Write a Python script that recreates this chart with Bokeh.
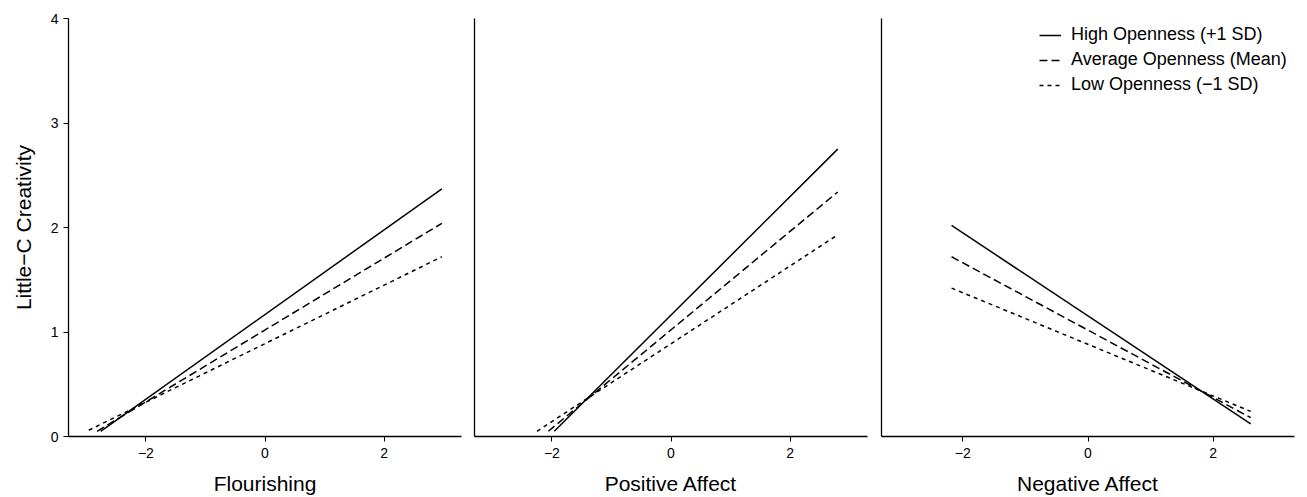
from bokeh.plotting import figure
from bokeh.layouts import row
from bokeh.models import Range1d, FixedTicker, Legend, LegendItem
from bokeh.embed import file_html
from bokeh.resources import INLINE

FONT = "Liberation Sans"

# ---- data ----
series_names = ["High Openness (+1 SD)", "Average Openness (Mean)", "Low Openness (\u22121 SD)"]
series_dash = ["solid", "8 4", "4 4"]

panel_titles = ["Flourishing", "Positive Affect", "Negative Affect"]

flour_x_start = [-2.76, -2.82, -2.96]
flour_x_end = [2.97, 2.97, 2.97]
flour_y_start = [0.05, 0.05, 0.06]
flour_y_end = [2.37, 2.04, 1.72]

pos_x_start = [-1.96, -2.06, -2.25]
pos_x_end = [2.80, 2.80, 2.80]
pos_y_start = [0.05, 0.05, 0.05]
pos_y_end = [2.75, 2.34, 1.93]

neg_x_start = [-2.18, -2.18, -2.18]
neg_x_end = [2.60, 2.60, 2.60]
neg_y_start = [2.02, 1.72, 1.42]
neg_y_end = [0.12, 0.18, 0.24]

x_ticks = [-2, 0, 2]
x_tick_labels = ["\u22122", "0", "2"]
y_ticks = [0, 1, 2, 3, 4]
y_label = "Little\u2212C Creativity"


def make_panel(title, xs0, xs1, ys0, ys1, width, left, right, show_y, with_legend):
    p = figure(width=width, height=497, output_backend="svg", toolbar_location=None,
               x_range=Range1d(-3.3, 3.3), y_range=Range1d(0, 4),
               min_border_left=left, min_border_right=right,
               min_border_top=18, min_border_bottom=61)
    p.outline_line_color = None
    p.grid.visible = False
    p.background_fill_color = "white"
    p.border_fill_color = "white"

    rs = []
    for i in range(3):
        r = p.line([xs0[i], xs1[i]], [ys0[i], ys1[i]], line_color="black",
                   line_width=1.5, line_dash=series_dash[i])
        rs.append(r)

    xa = p.xaxis[0]
    xa.ticker = FixedTicker(ticks=x_ticks)
    xa.major_label_overrides = {t: l for t, l in zip(x_ticks, x_tick_labels)}
    xa.minor_tick_line_color = None
    xa.major_tick_out = 5
    xa.major_tick_in = 0
    xa.axis_line_width = 1.3
    xa.axis_line_color = "black"
    xa.major_tick_line_color = "black"
    xa.major_label_text_font = FONT
    xa.major_label_text_font_size = "14px"
    xa.major_label_text_color = "black"
    xa.major_label_standoff = 6
    xa.axis_label = title
    xa.axis_label_text_font = FONT
    xa.axis_label_text_font_size = "21px"
    xa.axis_label_text_font_style = "normal"
    xa.axis_label_text_color = "black"
    xa.axis_label_standoff = 11

    ya = p.yaxis[0]
    ya.axis_line_width = 1.3
    ya.axis_line_color = "black"
    ya.minor_tick_line_color = None
    if show_y:
        ya.ticker = FixedTicker(ticks=y_ticks)
        ya.major_tick_out = 5
        ya.major_tick_in = 0
        ya.major_tick_line_color = "black"
        ya.major_label_text_font = FONT
        ya.major_label_text_font_size = "14px"
        ya.major_label_text_color = "black"
        ya.major_label_standoff = 5
        ya.axis_label = y_label
        ya.axis_label_text_font = FONT
        ya.axis_label_text_font_size = "21px"
        ya.axis_label_text_font_style = "normal"
        ya.axis_label_text_color = "black"
        ya.axis_label_standoff = 13
    else:
        ya.ticker = FixedTicker(ticks=[])
        ya.major_tick_line_color = None
        ya.major_label_text_font_size = "0px"
        ya.major_label_standoff = 0
        ya.axis_label = None

    if with_legend:
        items = [LegendItem(label=series_names[i], renderers=[rs[i]]) for i in range(3)]
        lg = Legend(items=items, location=(158, 341))
        lg.padding = 0
        lg.margin = 0
        lg.spacing = 4
        lg.glyph_width = 22
        lg.glyph_height = 20
        lg.label_height = 20
        lg.label_standoff = 10
        lg.label_text_font = FONT
        lg.label_text_font_size = "18px"
        lg.label_text_color = "black"
        lg.border_line_color = None
        lg.background_fill_alpha = 0
        p.add_layout(lg)
    return p


p1 = make_panel(panel_titles[0], flour_x_start, flour_x_end, flour_y_start, flour_y_end,
                467, 68, 6, True, False)
p2 = make_panel(panel_titles[1], pos_x_start, pos_x_end, pos_y_start, pos_y_end,
                407, 7, 7, False, False)
p3 = make_panel(panel_titles[2], neg_x_start, neg_x_end, neg_y_start, neg_y_end,
                433, 7, 13, False, True)

layout = row(p1, p2, p3)
open("out.html", "w").write(file_html(layout, INLINE))
